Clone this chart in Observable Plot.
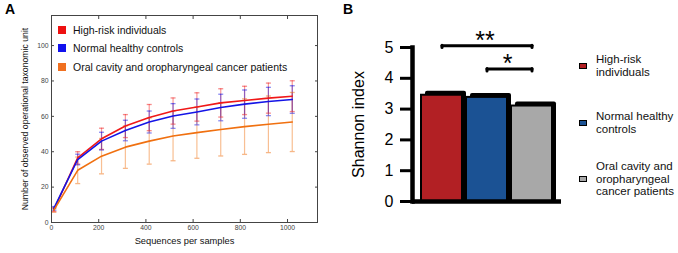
<!DOCTYPE html>
<html><head><meta charset="utf-8">
<script src="https://cdn.jsdelivr.net/npm/d3@7"></script>
<script src="https://cdn.jsdelivr.net/npm/@observablehq/plot@0.6"></script>
<style>
body{margin:0;background:#fff;font-family:"Liberation Sans",Arial,sans-serif;}
#wrap{position:relative;width:678px;height:253px;overflow:hidden;background:#fff;}
.panel{position:absolute;top:0;}
.tag{position:absolute;font-weight:bold;font-size:14px;line-height:14px;color:#000;}
.legA{position:absolute;left:58px;top:21px;font-size:10.5px;color:#111;}
.legA div{height:18.3px;display:flex;align-items:center;white-space:nowrap;}
.legA span.sw{display:inline-block;width:8px;height:8px;margin-right:7px;}
.legB{position:absolute;left:579px;top:0;font-size:11.5px;line-height:12.7px;color:#111;}
.legB .it{position:absolute;left:0;display:flex;align-items:center;white-space:nowrap;}
.legB span.sw{display:inline-block;width:6px;height:4px;border:1px solid #000;margin-right:9px;}
</style></head><body>
<div id="wrap">
  <div id="A" class="panel" style="left:0"></div>
  <div id="B" class="panel" style="left:340px"></div>
  <div class="tag" style="left:5px;top:2px">A</div>
  <div class="tag" style="left:343px;top:2px">B</div>
  <div id="legA" class="legA"></div>
  <div id="legB" class="legB"></div>
</div>
<script>
// ---------- Panel A data (rarefaction curves) ----------
const seriesNames = ["High-risk individuals", "Normal healthy controls", "Oral cavity and oropharyngeal cancer patients"];
const seriesColors = ["#f01818", "#1414e6", "#f07010"];
const legendColorsA = ["#ee1111", "#1111ee", "#f07020"];
const sequences = [10, 111, 212, 313, 414, 515, 616, 717, 818, 919, 1020];
const highRiskMean = [7.2, 36.5, 47.3, 54.5, 59.3, 63.0, 65.3, 67.6, 69.0, 70.3, 71.4];
const highRiskSD   = [1.0, 3.5, 6.0, 6.5, 7.4, 7.4, 8.0, 8.0, 8.0, 8.5, 8.7];
const normalMean   = [8.0, 35.6, 46.0, 52.0, 56.8, 60.2, 62.5, 65.0, 66.9, 68.4, 69.5];
const normalSD     = [1.0, 3.0, 5.0, 5.8, 6.2, 7.0, 7.3, 7.5, 8.0, 8.0, 7.8];
const cancerMean   = [7.0, 29.5, 37.5, 42.6, 46.0, 48.9, 50.8, 52.6, 54.2, 55.5, 56.8];
const cancerSD     = [1.2, 7.5, 10.0, 12.0, 13.0, 14.0, 14.5, 15.0, 15.7, 16.0, 16.7];
const xTicksA = [0, 200, 400, 600, 800, 1000];
const yTicksA = [0, 20, 40, 60, 80, 100];

// ---------- Panel B data (Shannon index) ----------
const groupsB = ["High-risk individuals", "Normal healthy controls", "Oral cavity and oropharyngeal cancer patients"];
const legendLinesB = [["High-risk", "individuals"], ["Normal healthy", "controls"], ["Oral cavity and", "oropharyngeal", "cancer patients"]];
const shannonValues = [3.45, 3.38, 3.1];
const barColorsB = ["#b22024", "#1b5294", "#a8a8a8"];
const yTicksB = [0, 1, 2, 3, 4, 5];
const bracketFrom = ["High-risk individuals", "Normal healthy controls"];
const bracketTo = ["Oral cavity and oropharyngeal cancer patients", "Oral cavity and oropharyngeal cancer patients"];
const bracketY = [5.06, 4.3];
const bracketLabels = ["**", "*"];

const font = "Liberation Sans, Arial, sans-serif";

// Build long rows
const meansAll = [highRiskMean, normalMean, cancerMean];
const sdsAll = [highRiskSD, normalSD, cancerSD];
const rows = [];
seriesNames.forEach((s, k) => sequences.forEach((x, i) => rows.push({series: s, x, mean: meansAll[k][i], lo: meansAll[k][i] - sdsAll[k][i], hi: meansAll[k][i] + sdsAll[k][i]})));
const errRows = [...rows.filter(r => r.series === seriesNames[2]), ...rows.filter(r => r.series !== seriesNames[2])];

const capSymbol = {draw(ctx, size) { const r = Math.sqrt(size / Math.PI); ctx.moveTo(-r, 0); ctx.lineTo(r, 0); }};
const noLabel = () => "";

const plotA = Plot.plot({
  width: 340, height: 253,
  marginLeft: 51, marginRight: 23, marginTop: 15, marginBottom: 31,
  style: {fontFamily: font, background: "transparent", overflow: "visible"},
  x: {domain: [0, 1127]},
  y: {domain: [0, 117]},
  color: {domain: seriesNames, range: seriesColors},
  marks: [
    Plot.ruleX(errRows, {x: "x", y1: "lo", y2: "hi", stroke: "series", strokeOpacity: 0.45, strokeWidth: 1.2}),
    Plot.dot(errRows, {x: "x", y: "hi", symbol: capSymbol, r: 2.5, stroke: "series", strokeOpacity: 0.5, strokeWidth: 1.3, fill: "none"}),
    Plot.dot(errRows, {x: "x", y: "lo", symbol: capSymbol, r: 2.5, stroke: "series", strokeOpacity: 0.5, strokeWidth: 1.3, fill: "none"}),
    Plot.line(rows, {x: "x", y: "mean", z: "series", stroke: "series", strokeWidth: 1.6}),
    Plot.frame({stroke: "#444", strokeWidth: 1}),
    Plot.axisX({ticks: xTicksA, tickFormat: "d", tickSize: -3, tickPadding: 6, fontSize: 6.8, color: "#444", label: null}),
    Plot.axisX({anchor: "top", ticks: xTicksA, tickSize: -3, tickFormat: noLabel, color: "#444", label: null}),
    Plot.axisY({ticks: yTicksA, tickFormat: "d", tickSize: -3, tickPadding: 6, fontSize: 6.8, color: "#444", label: null}),
    Plot.axisY({anchor: "right", ticks: yTicksA, tickSize: -3, tickFormat: noLabel, color: "#444", label: null}),
    Plot.text(["Sequences per samples"], {frameAnchor: "bottom", dy: 21, fontSize: 9.3, fill: "#111"}),
    Plot.text(["Number of observed operational taxonomic unit"], {frameAnchor: "left", textAnchor: "middle", rotate: -90, dx: -26, fontSize: 8.7, fill: "#111"})
  ]
});
document.getElementById("A").appendChild(plotA);

// Legend A
const legA = document.getElementById("legA");
seriesNames.forEach((s, k) => {
  const d = document.createElement("div");
  d.innerHTML = `<span class="sw" style="background:${legendColorsA[k]}"></span>${s}`;
  legA.appendChild(d);
});

// Panel B
const bars = groupsB.map((g, i) => ({group: g, value: shannonValues[i]}));
const brackets = bracketFrom.map((f, i) => ({from: f, to: bracketTo[i], y: bracketY[i], label: bracketLabels[i]}));
const bracketEnds = brackets.flatMap(b => [{x: b.from, y: b.y}, {x: b.to, y: b.y}]);

const optsB = {
  width: 230, height: 253,
  marginLeft: 72, marginRight: 9, marginTop: 47, marginBottom: 52,
  style: {fontFamily: font, background: "transparent", overflow: "visible"},
  x: {domain: groupsB, paddingInner: 0.1, paddingOuter: 0.17, axis: null},
  y: {domain: [0, 5]},
  color: {domain: groupsB, range: barColorsB}
};
// first pass: get the x scale to center the significance labels between bracket ends
const probe = Plot.plot({...optsB, marks: [Plot.barY(bars, {x: "group", y: "value"})]});
const xs = probe.scale("x");
const labelMarks = brackets.map(b => Plot.text([b], {x: "from", y: "y", text: "label", fontSize: 25, dy: -5, fill: "#000",
  dx: (xs.apply(b.to) - xs.apply(b.from)) / 2 - 2}));

const plotB = Plot.plot({
  ...optsB,
  marks: [
    Plot.barY(bars, {x: "group", y: "value", fill: "#000", dx: 4, dy: -4, insetBottom: -4, rx: 2}),
    Plot.barY(bars, {x: "group", y: "value", fill: "group", stroke: "#000", strokeWidth: 2}),
    Plot.ruleY([0], {strokeWidth: 4.5, stroke: "#000"}),
    Plot.frame({anchor: "left", strokeWidth: 4.5, stroke: "#000"}),
    Plot.axisY({ticks: yTicksB, tickFormat: "d", tickSize: 12, tickPadding: 7, strokeWidth: 3, fontSize: 16, color: "#000",
      label: "Shannon index", labelAnchor: "center", labelOffset: 60, labelArrow: "none"}),
    Plot.link(brackets, {x1: "from", x2: "to", y1: "y", y2: "y", strokeWidth: 3, strokeLinecap: "round"}),
    Plot.ruleX(bracketEnds, {x: "x", y1: "y", y2: d => d.y - 0.08, strokeWidth: 3, strokeLinecap: "round"}),
    ...labelMarks
  ]
});
document.getElementById("B").appendChild(plotB);

// Legend B
const legB = document.getElementById("legB");
const legTopsB = [53, 110, 160];
legendLinesB.forEach((lines, k) => {
  const d = document.createElement("div");
  d.className = "it";
  d.style.top = legTopsB[k] + "px";
  d.innerHTML = `<span class="sw" style="background:${barColorsB[k]}"></span><span>${lines.join("<br>")}</span>`;
  legB.appendChild(d);
});
</script>
</body></html>
